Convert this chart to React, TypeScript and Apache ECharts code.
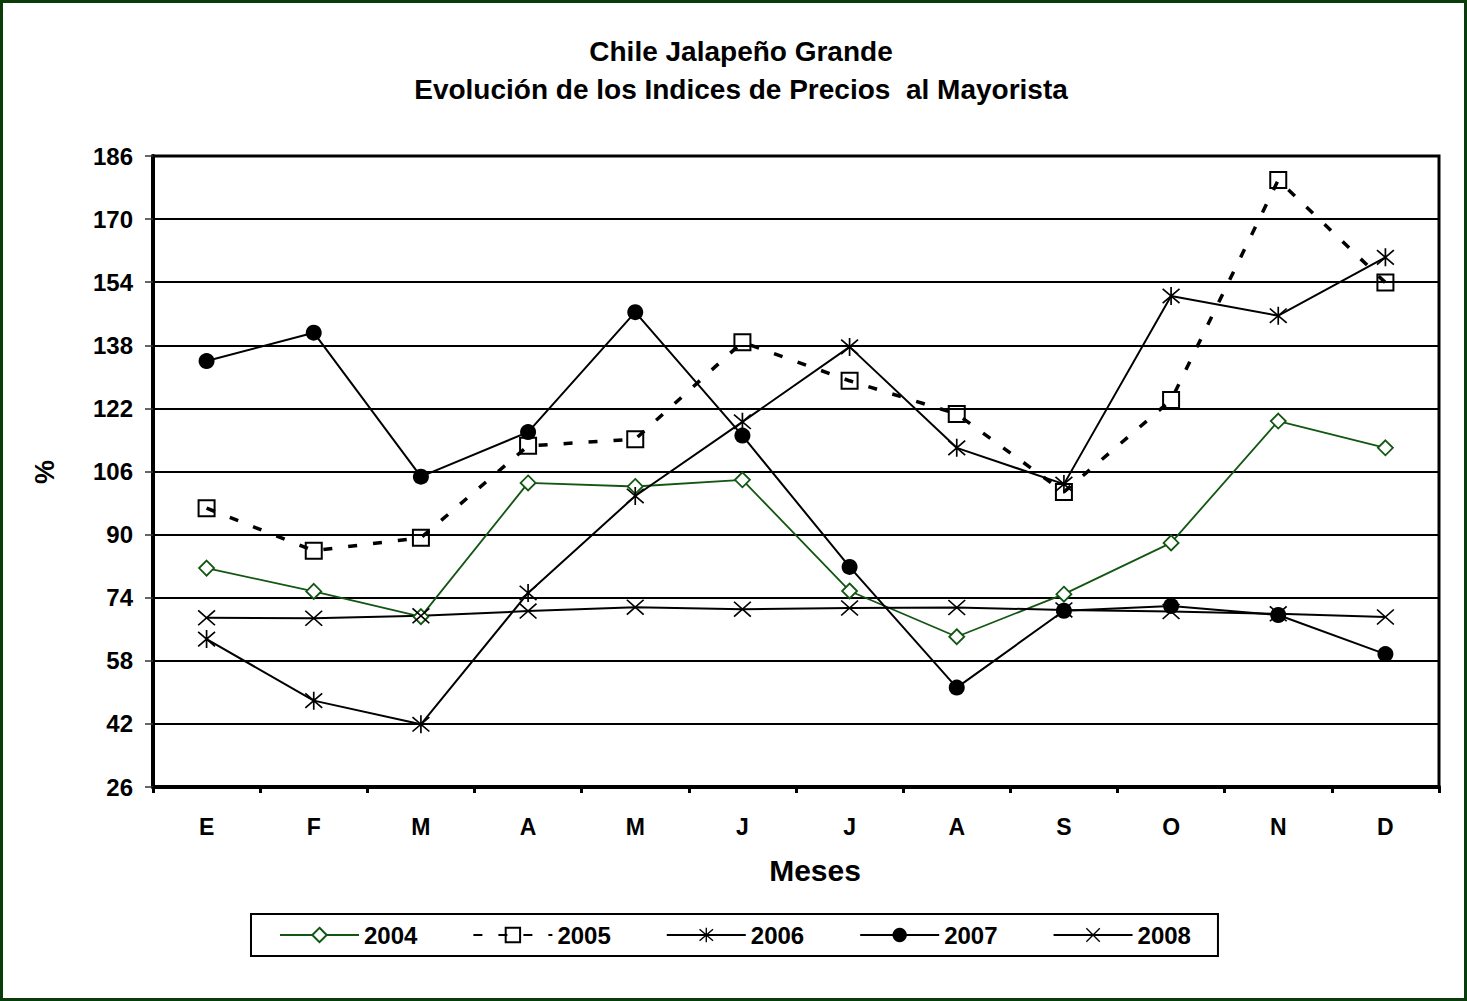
import React, { useEffect, useRef } from "react";
import * as echarts from "echarts";

const months = ["E", "F", "M", "A", "M", "J", "J", "A", "S", "O", "N", "D"];
const yMin = 26;
const yMax = 186;
const yStep = 16;

const years = ["2004", "2005", "2006", "2007", "2008"];
const v2004 = [81.5, 75.6, 69.2, 103.1, 102.2, 103.9, 75.7, 64.1, 74.9, 87.9, 118.8, 112.0];
const v2005 = [96.7, 85.9, 89.2, 112.5, 114.2, 138.8, 129.0, 120.6, 100.8, 124.1, 179.9, 153.9];
const v2006 = [63.5, 47.9, 41.9, 75.2, 99.8, 118.6, 137.6, 112.0, 102.8, 150.5, 145.5, 160.3];
const v2007 = [134.0, 141.2, 104.7, 116.0, 146.4, 115.1, 81.8, 51.2, 70.7, 71.9, 69.6, 59.7];
const v2008 = [68.9, 68.8, 69.4, 70.6, 71.6, 71.1, 71.4, 71.5, 70.9, 70.5, 69.9, 69.1];

const titleText = "Chile Jalapeño Grande\nEvolución de los Indices de Precios  al Mayorista";
const xName = "Meses";
const yName = "%";

const FONT = "Arial, 'Liberation Sans', sans-serif";
const GREEN = "#125612";

function thickLines(segs: number[][], w: number): string {
  return segs
    .map(([x1, y1, x2, y2]) => {
      const dx = x2 - x1;
      const dy = y2 - y1;
      const L = Math.hypot(dx, dy);
      const nx = (-dy / L) * w;
      const ny = (dx / L) * w;
      const p = [
        [x1 + nx, y1 + ny],
        [x2 + nx, y2 + ny],
        [x2 - nx, y2 - ny],
        [x1 - nx, y1 - ny],
      ];
      return "M" + p.map((q) => q[0].toFixed(2) + " " + q[1].toFixed(2)).join(" L") + " Z";
    })
    .join(" ");
}

const asteriskPath =
  "path://" +
  thickLines(
    [
      [10, 0, 10, 20],
      [1, 2, 19, 18],
      [1, 18, 19, 2],
    ],
    0.9
  );
const crossPath =
  "path://" +
  thickLines(
    [
      [1, 1, 19, 19],
      [1, 19, 19, 1],
    ],
    0.9
  );

const shift = (arr: number[]) => arr.map((v) => v - yMin);

export default function App() {
  const ref = useRef<HTMLDivElement>(null);

  useEffect(() => {
    document.body.style.margin = "0";
    if (!ref.current) return;
    const chart = echarts.init(ref.current, undefined, { renderer: "svg" });

    const baseLine = (name: string, data: number[]) => ({
      name,
      type: "line",
      data: shift(data),
      z: 3,
    });

    const option: any = {
      animation: false,
      backgroundColor: "#ffffff",
      textStyle: { fontFamily: FONT },
      grid: {
        left: 153,
        top: 156,
        width: 1286,
        height: 631,
        show: true,
        borderColor: "#000",
        borderWidth: 3,
        backgroundColor: "transparent",
        containLabel: false,
      },
      xAxis: {
        type: "category",
        data: months,
        boundaryGap: true,
        axisLine: { show: true, lineStyle: { color: "#000", width: 4 } },
        axisTick: { show: true, alignWithLabel: false, length: 6, lineStyle: { color: "#000", width: 3 } },
        axisLabel: {
          interval: 0,
          margin: 28,
          color: "#000",
          fontSize: 23,
          fontWeight: "bold",
          fontFamily: FONT,
        },
        splitLine: { show: false },
      },
      yAxis: {
        type: "value",
        min: 0,
        max: yMax - yMin,
        interval: yStep,
        axisLine: { show: true, lineStyle: { color: "#000", width: 4 } },
        axisTick: { show: true, length: 8, lineStyle: { color: "#333", width: 1.5 } },
        axisLabel: {
          margin: 20,
          color: "#000",
          fontSize: 24,
          fontWeight: "bold",
          fontFamily: FONT,
          formatter: (v: number) => String(v + yMin),
        },
        splitLine: { show: true, lineStyle: { color: "#000", width: 2 } },
      },
      legend: {
        left: 251,
        top: 914,
        orient: "horizontal",
        itemWidth: 79,
        itemHeight: 18,
        itemGap: 55,
        padding: [8, 27, 8, 28],
        borderColor: "#000",
        borderWidth: 2,
        backgroundColor: "#fff",
        data: years,
        textStyle: {
          color: "#000",
          fontSize: 24,
          fontWeight: "bold",
          fontFamily: FONT,
          lineHeight: 26,
        },
      },
      graphic: [
        {
          type: "rect",
          shape: { x: 1.5, y: 1.5, width: 1464, height: 998 },
          style: { fill: "none", stroke: "#0a3c0a", lineWidth: 3 },
          silent: true,
          z: 100,
        },
        {
          type: "text",
          x: 741,
          y: 32,
          style: {
            text: titleText,
            align: "center",
            verticalAlign: "top",
            font: "bold 28px " + FONT,
            lineHeight: 38,
            fill: "#000",
          },
        },
        {
          type: "text",
          x: 815,
          y: 870,
          style: {
            text: xName,
            align: "center",
            verticalAlign: "middle",
            font: "bold 30px " + FONT,
            fill: "#000",
          },
        },
        {
          type: "text",
          x: 45,
          y: 472,
          rotation: Math.PI / 2,
          style: {
            text: yName,
            align: "center",
            verticalAlign: "middle",
            font: "bold 27px " + FONT,
            fill: "#000",
          },
        },
      ],
      series: [
        {
          ...baseLine("2004", v2004),
          symbol: "diamond",
          symbolSize: 15,
          lineStyle: { color: GREEN, width: 1.8 },
          itemStyle: { color: "#fff", borderColor: GREEN, borderWidth: 1.8 },
        },
        {
          ...baseLine("2005", v2005),
          symbol: "rect",
          symbolSize: 16,
          lineStyle: { color: "#000", width: 3.5, type: [9, 16] },
          itemStyle: { color: "rgba(255,255,255,0)", borderColor: "#000", borderWidth: 2 },
        },
        {
          ...baseLine("2006", v2006),
          symbol: asteriskPath,
          symbolSize: [18, 18],
          lineStyle: { color: "#000", width: 2 },
          itemStyle: { color: "#000", borderWidth: 0 },
        },
        {
          ...baseLine("2007", v2007),
          symbol: "circle",
          symbolSize: 16,
          lineStyle: { color: "#000", width: 2 },
          itemStyle: { color: "#000", borderWidth: 0 },
        },
        {
          ...baseLine("2008", v2008),
          symbol: crossPath,
          symbolSize: [18, 16],
          lineStyle: { color: "#000", width: 2 },
          itemStyle: { color: "#000", borderWidth: 0 },
        },
      ],
    };

    chart.setOption(option);
    return () => {
      chart.dispose();
    };
  }, []);

  return <div ref={ref} style={{ width: 1467, height: 1001 }} />;
}
